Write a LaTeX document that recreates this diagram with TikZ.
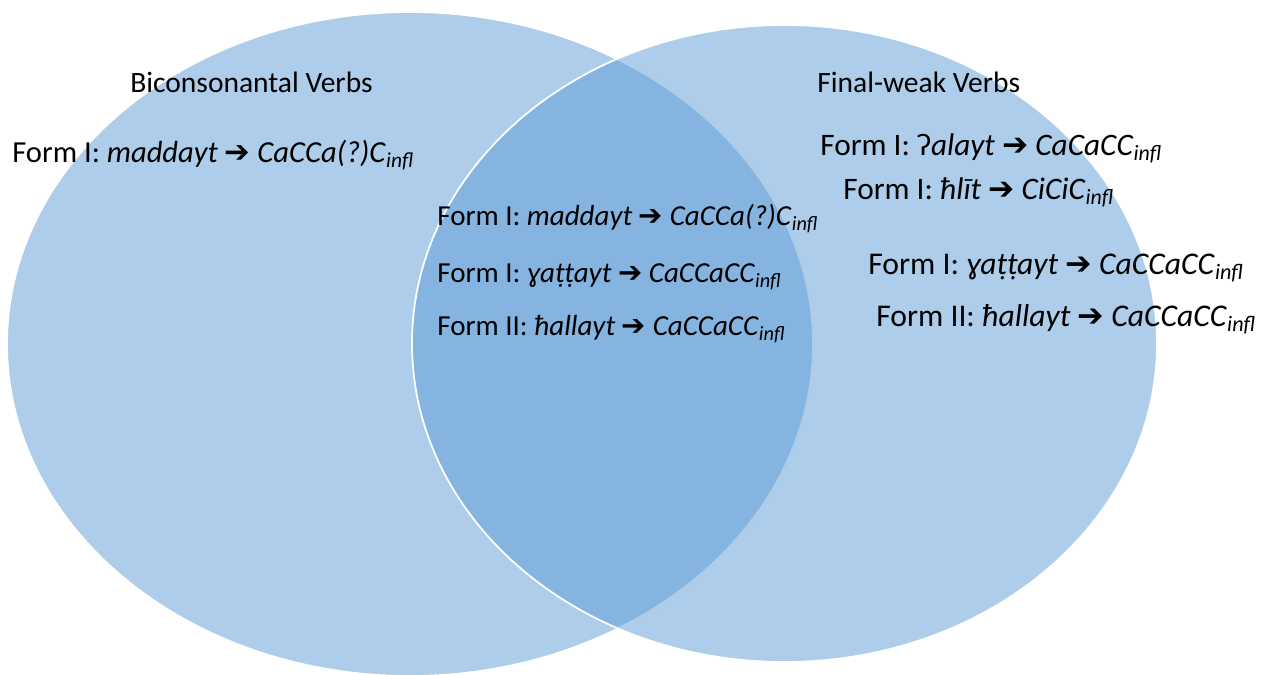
\documentclass[tikz,border=0pt]{standalone}
\usepackage{fontspec}
\setmainfont{Carlito}
\newfontfamily\arrowfont{DejaVu Sans}
\newcommand{\toarrow}{{\arrowfont ➔}}
\newcommand{\infl}{\textsubscript{\itshape infl}}
\definecolor{vennblue}{HTML}{5B9BD5}

\begin{document}
\begin{tikzpicture}[x=0.02cm,y=-0.02cm,
  setfill/.style={fill=vennblue,fill opacity=0.5,draw=white,line width=1pt},
  settitle/.style={anchor=base west,inner sep=0pt,font=\fontsize{16.8}{18}\selectfont},
  formline/.style={anchor=base west,inner sep=0pt,font=\fontsize{16.5}{18}\selectfont}]
  \useasboundingbox (0,0) rectangle (1269,675);
  \path[setfill] (410,344) ellipse [x radius=403,y radius=332];
  \path[setfill] (784.5,343.5) ellipse [x radius=372.5,y radius=318.5];
  \node[settitle] (bititle) at (130,93) {Biconsonantal Verbs};
  \node[formline,font=\fontsize{17.4}{19}\selectfont] (bimadd) at (12,163)
    {Form I: \emph{maddayt} \toarrow{} \emph{CaCCa(?)C}\infl};
  \node[formline] (midmadd) at (437,226)
    {Form I: \emph{maddayt} \toarrow{} \emph{CaCCa(?)C}\infl};
  \node[formline] (midyatt) at (437,283)
    {Form I: \emph{ɣaṭṭayt} \toarrow{} \emph{CaCCaCC}\infl};
  \node[formline] (midhall) at (437,336)
    {Form II: \emph{ħallayt} \toarrow{} \emph{CaCCaCC}\infl};
  \node[settitle] (fwtitle) at (817,93) {Final-weak Verbs};
  \node[formline,font=\fontsize{17.8}{19}\selectfont] (fwalay) at (820,156)
    {Form I: ʔ\emph{alayt} \toarrow{} \emph{CaCaCC}\infl};
  \node[formline,font=\fontsize{17.8}{19}\selectfont] (fwhlit) at (843,200)
    {Form I: \emph{ħlīt} \toarrow{} \emph{CiCiC}\infl};
  \node[formline,font=\fontsize{18}{19}\selectfont] (fwyatt) at (868,275)
    {Form I: \emph{ɣaṭṭayt} \toarrow{} \emph{CaCCaCC}\infl};
  \node[formline,font=\fontsize{18}{19}\selectfont] (fwhall) at (876,327)
    {Form II: \emph{ħallayt} \toarrow{} \emph{CaCCaCC}\infl};
\end{tikzpicture}
\end{document}
